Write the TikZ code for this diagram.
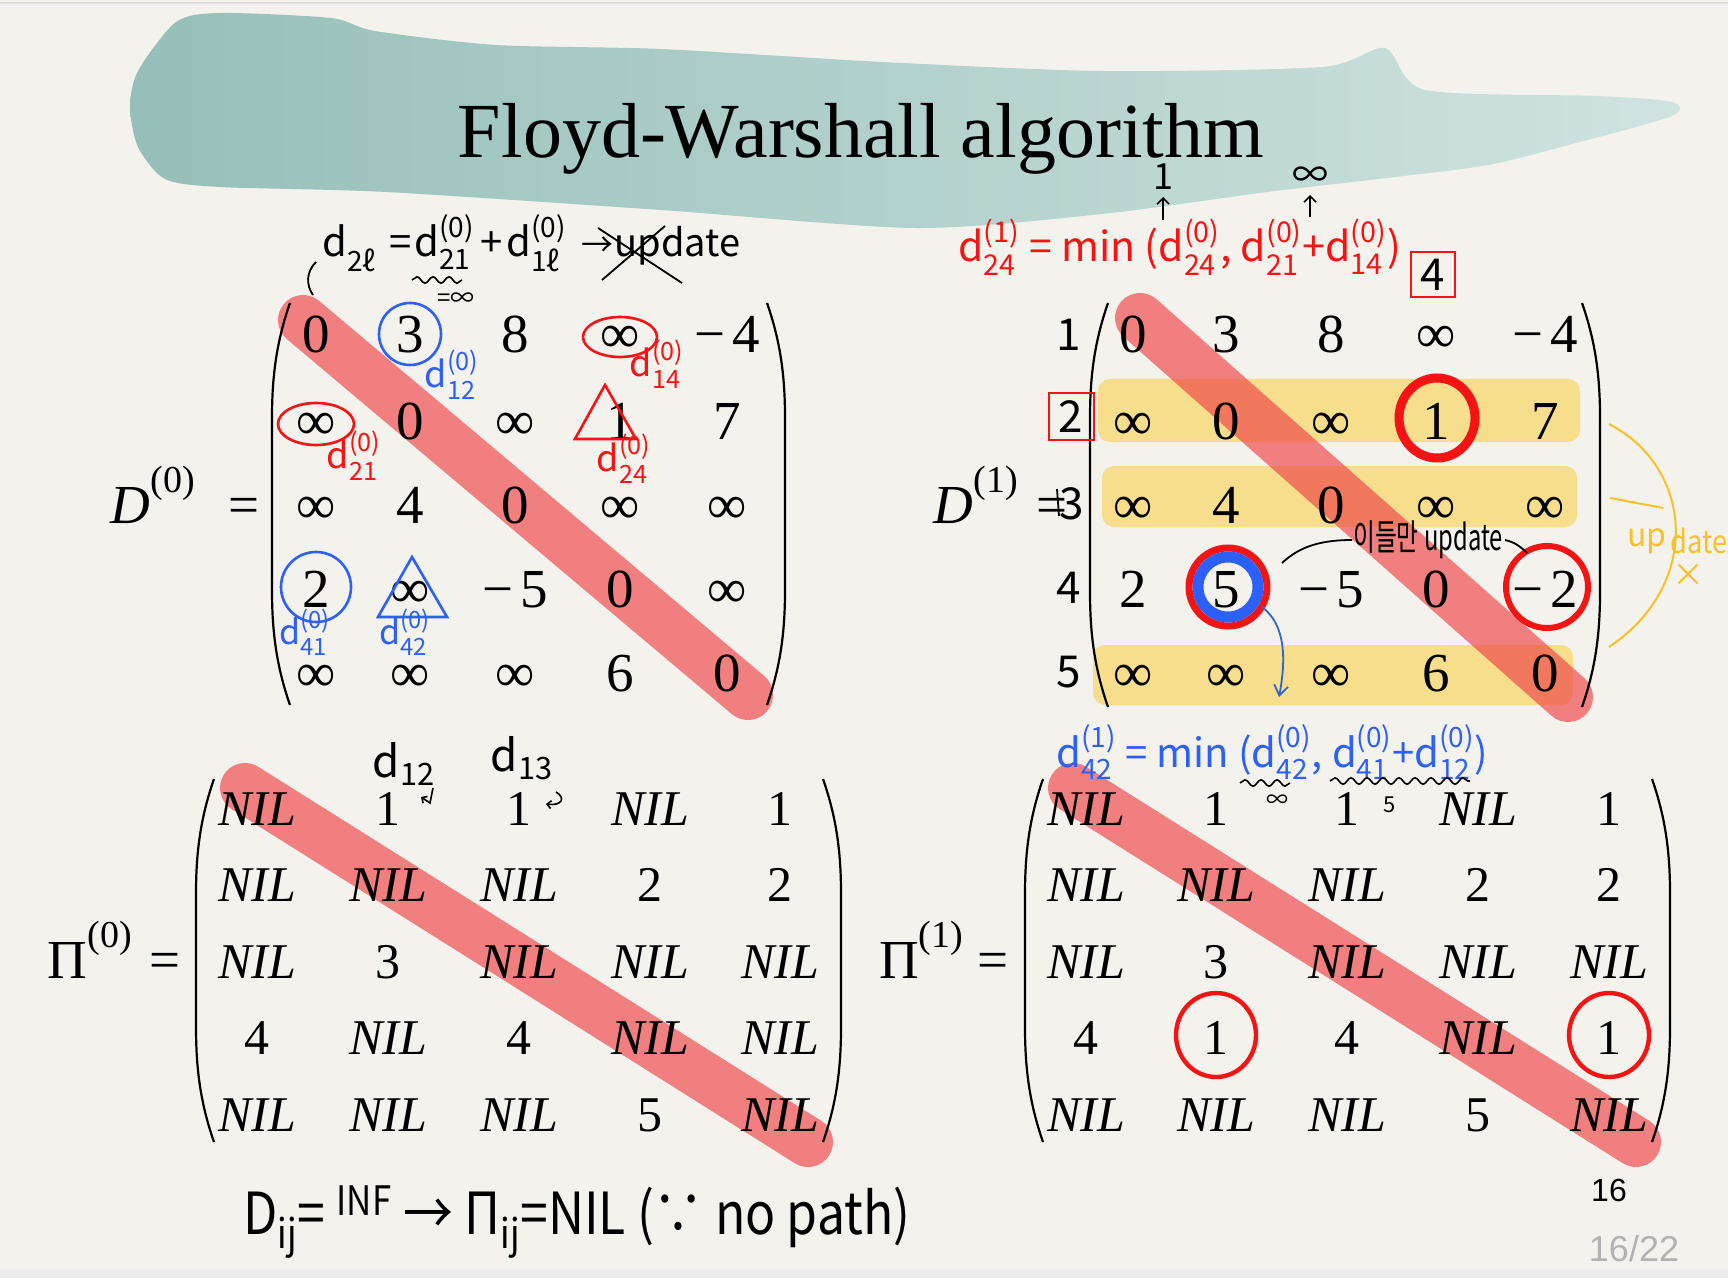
\documentclass[tikz,border=0pt]{standalone}
\usepackage{fontspec}
\usepackage{amsmath}
\setmainfont{Liberation Serif}
\newfontfamily\hw{Noto Sans CJK KR}
\newfontfamily\slidesans{Liberation Sans}
\usetikzlibrary{arrows.meta,decorations.pathmorphing}
\definecolor{bgc}{RGB}{243,242,237}
\definecolor{tealA}{RGB}{150,191,184}
\definecolor{tealB}{RGB}{208,227,224}
\definecolor{barred}{RGB}{240,66,69}
\definecolor{bandy}{RGB}{246,222,140}
\definecolor{annred}{RGB}{245,20,20}
\definecolor{annblue}{RGB}{45,95,250}
\definecolor{arrblue}{RGB}{50,100,205}
\definecolor{gold}{RGB}{250,192,40}
\newcommand\oo{∞}
\newcommand\mn[1]{−\hspace{0.12em}#1}
\newcommand\NIL{\textit{NIL}}
\newcommand\dd[2]{d$_{\text{#1}}^{\text{#2}}$}
\tikzset{
 dent/.style={anchor=base, inner sep=0pt, font=\fontsize{27.5}{30}\selectfont},
 pent/.style={anchor=base, inner sep=0pt, font=\fontsize{25}{28}\selectfont},
 brk/.style={line width=1.1pt, draw=black},
 mybar/.style={draw=barred, line width=25pt, line cap=round, draw opacity=0.65},
 myband/.style={fill=bandy, rounded corners=6pt},
 hwr/.style={font=\hw\fontsize{16}{18}\selectfont, text=annred, inner sep=0pt},
 hwb/.style={font=\hw\fontsize{16}{18}\selectfont, text=annblue, inner sep=0pt},
 hwk/.style={font=\hw\fontsize{16}{18}\selectfont, text=black, inner sep=0pt},
 rdl/.style={draw=annred, line width=1.3pt},
 bll/.style={draw=annblue, line width=1.3pt},
 squig/.style={decorate, decoration={snake, amplitude=1.6pt, segment length=8pt}, line width=0.8pt},
}
\newcommand\lbrk[3]{\draw[brk] (#1+18,#2) .. controls (#1+4,#2+40) and (#1,#2+75) .. (#1,#2+115) -- (#1,#3-115) .. controls (#1,#3-75) and (#1+4,#3-40) .. (#1+18,#3);}
\newcommand\rbrk[3]{\draw[brk] (#1-18,#2) .. controls (#1-4,#2+40) and (#1,#2+75) .. (#1,#2+115) -- (#1,#3-115) .. controls (#1,#3-75) and (#1-4,#3-40) .. (#1-18,#3);}
\begin{document}
\begin{tikzpicture}[x=0.5pt,y=-0.5pt]
\useasboundingbox (0,0) rectangle (1728,1278);
\fill[bgc] (0,0) rectangle (1728,1278);
\fill[black!8] (0,1270) rectangle (1728,1278);
\draw[black!12, line width=1pt] (0,3) -- (1728,3);
% teal brush
\shade[left color=tealA, right color=tealB] plot[smooth cycle, tension=0.45] coordinates {
 (176,22) (220,13) (331,18) (375,31) (496,45) (661,49) (882,62) (1102,71) (1322,67) (1385,48) (1425,90) (1598,96) (1672,102) (1672,116) (1576,143) (1488,165) (1378,179) (1267,192) (1102,214) (915,228) (661,210) (386,192) (220,187) (165,179) (138,147) (130,107) (138,71)};
\node[anchor=base, font=\fontsize{39}{44}\selectfont] (title) at (861,158) {Floyd-Warshall algorithm};
% yellow bands
\fill[myband] (1098,379) rectangle (1580,442);
\fill[myband] (1102,466) rectangle (1577,527);
\fill[myband] (1093,645) rectangle (1573,705);
% red diagonal bars
\draw[mybar] (303,320) -- (748,695);
\draw[mybar] (1140,318) -- (1568,697);
\draw[mybar] (245,788) -- (808,1142);
\draw[mybar] (1073,788) -- (1636,1142);
% brackets
\lbrk{272}{303}{705} \rbrk{785}{303}{705}
\lbrk{1090}{303}{707} \rbrk{1600}{303}{707}
\lbrk{196}{779}{1142} \rbrk{841}{779}{1142}
\lbrk{1025}{779}{1142} \rbrk{1670}{779}{1142}
% matrix labels
\node[anchor=base, inner sep=0pt, font=\fontsize{27.5}{30}\selectfont] (lD0) at (153,523) {\textit{D}\raisebox{0.55em}{\fontsize{19}{19}\selectfont (0)}};
\node[anchor=base, inner sep=0pt, font=\fontsize{27.5}{30}\selectfont] (eqD0) at (244,523) {=};
\node[anchor=base, inner sep=0pt, font=\fontsize{27.5}{30}\selectfont] (lD1) at (976,523) {\textit{D}\raisebox{0.55em}{\fontsize{19}{19}\selectfont (1)}};
\node[anchor=base, inner sep=0pt, font=\fontsize{27.5}{30}\selectfont] (eqD1) at (1052,523) {=};
\node[anchor=base, inner sep=0pt, font=\fontsize{27.5}{30}\selectfont] (lP0) at (90,978) {Π\raisebox{0.55em}{\fontsize{19}{19}\selectfont (0)}};
\node[anchor=base, inner sep=0pt, font=\fontsize{27.5}{30}\selectfont] (eqP0) at (165,978) {=};
\node[anchor=base, inner sep=0pt, font=\fontsize{27.5}{30}\selectfont] (lP1) at (921,978) {Π\raisebox{0.55em}{\fontsize{19}{19}\selectfont (1)}};
\node[anchor=base, inner sep=0pt, font=\fontsize{27.5}{30}\selectfont] (eqP1) at (993,978) {=};
% D0 entries
\foreach \row [count=\i] in {{0,3,8,\oo,\mn4},{\oo,0,\oo,1,7},{\oo,4,0,\oo,\oo},{2,\oo,\mn5,0,\oo},{\oo,\oo,\oo,6,0}}{
 \foreach \e [count=\j] in \row {
  \pgfmathsetmacro\cx{{316,410,515,620,727}[\j-1]}
  \pgfmathsetmacro\cy{{353,439,523,607,691}[\i-1]}
  \node[dent] (dA\i\j) at (\cx,\cy) {\e};
 }
}
% D1 entries
\foreach \row [count=\i] in {{0,3,8,\oo,\mn4},{\oo,0,\oo,1,7},{\oo,4,0,\oo,\oo},{2,5,\mn5,0,\mn2},{\oo,\oo,\oo,6,0}}{
 \foreach \e [count=\j] in \row {
  \pgfmathsetmacro\cx{{1133,1226,1331,1436,1545}[\j-1]}
  \pgfmathsetmacro\cy{{353,439,523,607,691}[\i-1]}
  \node[dent] (dB\i\j) at (\cx,\cy) {\e};
 }
}
% Pi0 entries
\foreach \row [count=\i] in {{\NIL,1,1,\NIL,1},{\NIL,\NIL,\NIL,2,2},{\NIL,3,\NIL,\NIL,\NIL},{4,\NIL,4,\NIL,\NIL},{\NIL,\NIL,\NIL,5,\NIL}}{
 \foreach \e [count=\j] in \row {
  \pgfmathsetmacro\cx{{257,388,519,650,780}[\j-1]}
  \pgfmathsetmacro\cy{{825,901,978,1054,1131}[\i-1]}
  \node[pent] (pA\i\j) at (\cx,\cy) {\e};
 }
}
% Pi1 entries
\foreach \row [count=\i] in {{\NIL,1,1,\NIL,1},{\NIL,\NIL,\NIL,2,2},{\NIL,3,\NIL,\NIL,\NIL},{4,1,4,\NIL,1},{\NIL,\NIL,\NIL,5,\NIL}}{
 \foreach \e [count=\j] in \row {
  \pgfmathsetmacro\cx{{1086,1216,1347,1478,1609}[\j-1]}
  \pgfmathsetmacro\cy{{825,901,978,1054,1131}[\i-1]}
  \node[pent] (pB\i\j) at (\cx,\cy) {\e};
 }
}
% ---- annotations on D0 ----
\draw[bll] (410,334) circle[radius=15.5pt];
\draw[rdl] (620,337) ellipse[x radius=18.5pt, y radius=10pt];
\draw[rdl] (316,424) ellipse[x radius=19pt, y radius=10.5pt];
\draw[rdl] (605,385) -- (575,439) -- (636,439) -- cycle;
\draw[bll] (316,587) circle[radius=17.5pt];
\draw[bll] (412,557) -- (378,617) -- (447,617) -- cycle;
\node[hwb, font=\hw\fontsize{18}{20}\selectfont] (l12) at (452,375) {\dd{12}{(0)}};
\node[hwr, font=\hw\fontsize{18}{20}\selectfont] (l14) at (657,364) {\dd{14}{(0)}};
\node[hwr, font=\hw\fontsize{18}{20}\selectfont] (l21) at (354,456) {\dd{21}{(0)}};
\node[hwr, font=\hw\fontsize{18}{20}\selectfont] (l24) at (624,459) {\dd{24}{(0)}};
\node[hwb, font=\hw\fontsize{17}{19}\selectfont] (l41) at (305,632) {\dd{41}{(0)}};
\node[hwb, font=\hw\fontsize{17}{19}\selectfont] (l42) at (405,632) {\dd{42}{(0)}};
% top black formula
\node[hwk, font=\hw\fontsize{20}{22}\selectfont, anchor=base west] (f1) at (322,257) {\dd{2ℓ}{}};
\node[hwk, font=\hw\fontsize{20}{22}\selectfont, anchor=base] (f2) at (401,257) {=};
\node[hwk, font=\hw\fontsize{20}{22}\selectfont, anchor=base west] (f3) at (414,257) {\dd{21}{(0)}};
\node[hwk, font=\hw\fontsize{20}{22}\selectfont, anchor=base] (f4) at (492,257) {+};
\node[hwk, font=\hw\fontsize{20}{22}\selectfont, anchor=base west] (f5) at (506,257) {\dd{1ℓ}{(0)}};
\node[hwk, font=\hw\fontsize{16}{18}\selectfont, anchor=base] (f6) at (597,257) {→};
\node[hwk, font=\hw\fontsize{19}{20}\selectfont, anchor=base west] (f7) at (614,257) {update};
\draw[line width=0.9pt] (602,280) -- (665,226);
\draw[line width=0.9pt] (598,228) -- (682,283);
\draw[squig] (412,280) -- (462,280);
\node[hwk, font=\hw\fontsize{12}{13}\selectfont] (f8) at (456,300) {=∞};
\draw[line width=0.9pt] (316,262) .. controls (306,272) and (306,285) .. (313,295);
% ---- annotations on D1 ----
\node[hwr, font=\hw\fontsize{20.5}{22}\selectfont, anchor=base west] (g1) at (958,262) {\dd{24}{(1)} = min (\dd{24}{(0)}, \dd{21}{(0)}+\dd{14}{(0)})};
\node[hwk, font=\hw\fontsize{18}{20}\selectfont] (g2) at (1163,177) {1};
\node[hwk, font=\hw\fontsize{18}{20}\selectfont] (g3) at (1310,177) {∞};
\draw[-{Straight Barb[length=3pt]}, line width=0.8pt] (1163,220) -- (1163,197);
\draw[-{Straight Barb[length=3pt]}, line width=0.8pt] (1310,217) -- (1310,195);
\draw[rdl] (1411,252) rectangle (1455,297);
\node[hwk, font=\hw\fontsize{22}{24}\selectfont] (box4) at (1433,275) {4};
\draw[rdl] (1049,393) rectangle (1094,440);
\node[hwk, font=\hw\fontsize{22}{24}\selectfont] (r1) at (1069,335) {1};
\node[hwk, font=\hw\fontsize{22}{24}\selectfont] (r2) at (1071,417) {2};
\node[hwk, font=\hw\fontsize{22}{24}\selectfont] (r3) at (1072,504) {3};
\draw[line width=0.9pt] (1057,489) -- (1059,516);
\node[hwk, font=\hw\fontsize{22}{24}\selectfont] (r4) at (1069,588) {4};
\node[hwk, font=\hw\fontsize{22}{24}\selectfont] (r5) at (1069,672) {5};
\draw[draw=annred, line width=4.5pt] (1437,418) ellipse[x radius=19pt, y radius=20pt];
\draw[draw=annred, line width=3.5pt] (1228,587) circle[radius=19.5pt];
\draw[draw=annblue, line width=5.5pt] (1228,587) circle[radius=15pt];
\draw[draw=annred, line width=3pt] (1547,587) circle[radius=20.5pt];
\node[hwk, font=\hw\fontsize{18}{20}\selectfont] (kor) at (1428,540) {\scalebox{0.66}[1]{이들만 update}};
\draw[line width=0.9pt] (1282,563) .. controls (1300,546) and (1322,540) .. (1352,540);
\draw[line width=0.9pt] (1505,540) .. controls (1514,542) and (1520,546) .. (1527,553);
\draw[draw=arrblue, line width=0.9pt, -{Straight Barb[length=5pt, width=7pt]}] (1262,607) .. controls (1286,625) and (1286,660) .. (1279,697);
\draw[draw=gold, line width=1pt] (1609,424) .. controls (1694,468) and (1702,585) .. (1609,647);
\draw[draw=gold, line width=1pt] (1610,498) -- (1663,508);
\node[hwk, text=gold, font=\hw\fontsize{16}{17}\selectfont] (u1) at (1647,541) {up};
\node[hwk, text=gold, font=\hw\fontsize{16}{17}\selectfont] (u2) at (1699,541) {\scalebox{0.85}[1]{date}};
\node[hwk, text=gold, font=\hw\fontsize{16}{17}\selectfont] (u3) at (1688,575) {×};
% ---- annotation Pi ----
\node[hwb, font=\hw\fontsize{20}{22}\selectfont, anchor=base west] (h1) at (1056,767) {\dd{42}{(1)} = min (\dd{42}{(0)}, \dd{41}{(0)}+\dd{12}{(0)})};
\draw[squig, draw=black] (1240,783) -- (1290,783);
\draw[squig, draw=black] (1330,781) -- (1470,781);
\node[hwk, font=\hw\fontsize{11}{12}\selectfont] (h2) at (1277,801) {∞};
\node[hwk, font=\hw\fontsize{11}{12}\selectfont] (h3) at (1390,805) {5};
\node[hwk, font=\hw\fontsize{22}{24}\selectfont] (k12) at (404,764) {d$_{\text{12}}$};
\node[hwk, font=\hw\fontsize{22}{24}\selectfont] (k13) at (522,758) {d$_{\text{13}}$};
\draw[line width=0.8pt, -{Straight Barb[length=2pt]}] (433,788) -- (430,803) -- (421,797);
\draw[line width=0.8pt, -{Straight Barb[length=2pt]}] (556,792) .. controls (566,798) and (562,806) .. (546,804);
\draw[draw=annred, line width=2.2pt] (1216,1035) ellipse[x radius=20pt, y radius=21pt];
\draw[draw=annred, line width=2.2pt] (1609,1035) ellipse[x radius=20pt, y radius=21pt];
% bottom note
\node[hwk, anchor=base west, font=\hw\fontsize{29}{31}\selectfont] (note) at (243,1234) {\scalebox{0.86}[1]{D$_{\text{ij}}$= $^{\text{INF}}$ → Π$_{\text{ij}}$=NIL (∵ no path)}};
% page numbers
\node[font=\slidesans\fontsize{16}{18}\selectfont] (pg) at (1609,1190) {16};
\node[font=\slidesans\fontsize{18}{20}\selectfont, text=black!30] (pg2) at (1634,1249) {16/22};
\end{tikzpicture}
\end{document}
